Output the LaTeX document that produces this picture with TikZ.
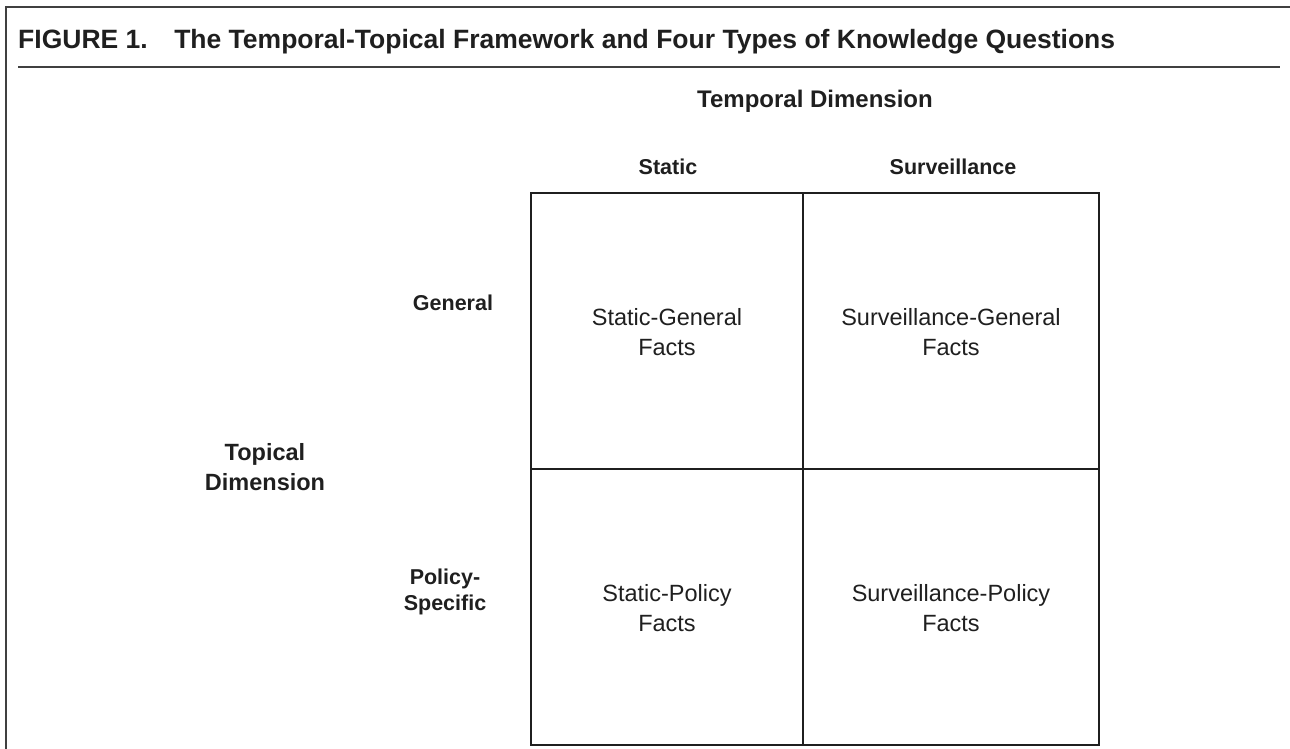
\documentclass[tikz,border=0pt]{standalone}
\usepackage{fontspec}
\setmainfont{Liberation Sans}
\begin{document}
\begin{tikzpicture}[x=1pt,y=-1pt,
  ink/.style={color=black!88},
  frameline/.style={draw=black!75,line width=1.5pt},
  gridline/.style={draw=black!88,line width=2.2pt},
  hdr/.style={ink,font=\fontsize{21.5}{26}\selectfont\bfseries,align=center,inner sep=0pt},
  cell/.style={ink,font=\fontsize{23.5}{30}\selectfont,align=center,inner sep=0pt},
  ttl/.style={ink,font=\fontsize{26.5}{30}\selectfont\bfseries,inner sep=0pt,anchor=base west}]
\useasboundingbox (0,0) rectangle (1290,749);
% frame
\coordinate (ftr) at (1290,7);
\coordinate (ftl) at (6,7);
\coordinate (fbl) at (6,749);
\draw[frameline] (ftr) -- (ftl) -- (fbl);
\coordinate (rl) at (18,67);
\coordinate (rr) at (1280,67);
\draw[frameline] (rl) -- (rr);
\node[ttl] (title) at (18,49) {FIGURE 1.\hspace{1em}The Temporal-Topical Framework and Four Types of Knowledge Questions};
% grid
\coordinate (g00) at (531,193);
\coordinate (g10) at (803,193);
\coordinate (g20) at (1099,193);
\coordinate (g01) at (531,469);
\coordinate (g21) at (1099,469);
\coordinate (g02) at (531,745);
\coordinate (g12) at (803,745);
\coordinate (g22) at (1099,745);
\draw[gridline] (g00) rectangle (g22);
\draw[gridline] (g10) -- (g12);
\draw[gridline] (g01) -- (g21);
% headers
\node[hdr,font=\fontsize{24}{28}\selectfont\bfseries] (temporal) at (815,101) {Temporal Dimension};
\node[hdr] (static) at (668,167) {Static};
\node[hdr] (surv) at (953,167) {Surveillance};
\node[hdr] (general) at (453,303) {General};
\node[hdr] (policy) at (445,592) {Policy-\\Specific};
\node[hdr,font=\fontsize{23.5}{30}\selectfont\bfseries] (topical) at (265,467) {Topical\\Dimension};
% cells
\node[cell] (sg) at (667,332) {Static-General\\Facts};
\node[cell] (svg) at (951,332) {Surveillance-General\\Facts};
\node[cell] (sp) at (667,608) {Static-Policy\\Facts};
\node[cell] (svp) at (951,608) {Surveillance-Policy\\Facts};
\end{tikzpicture}
\end{document}
